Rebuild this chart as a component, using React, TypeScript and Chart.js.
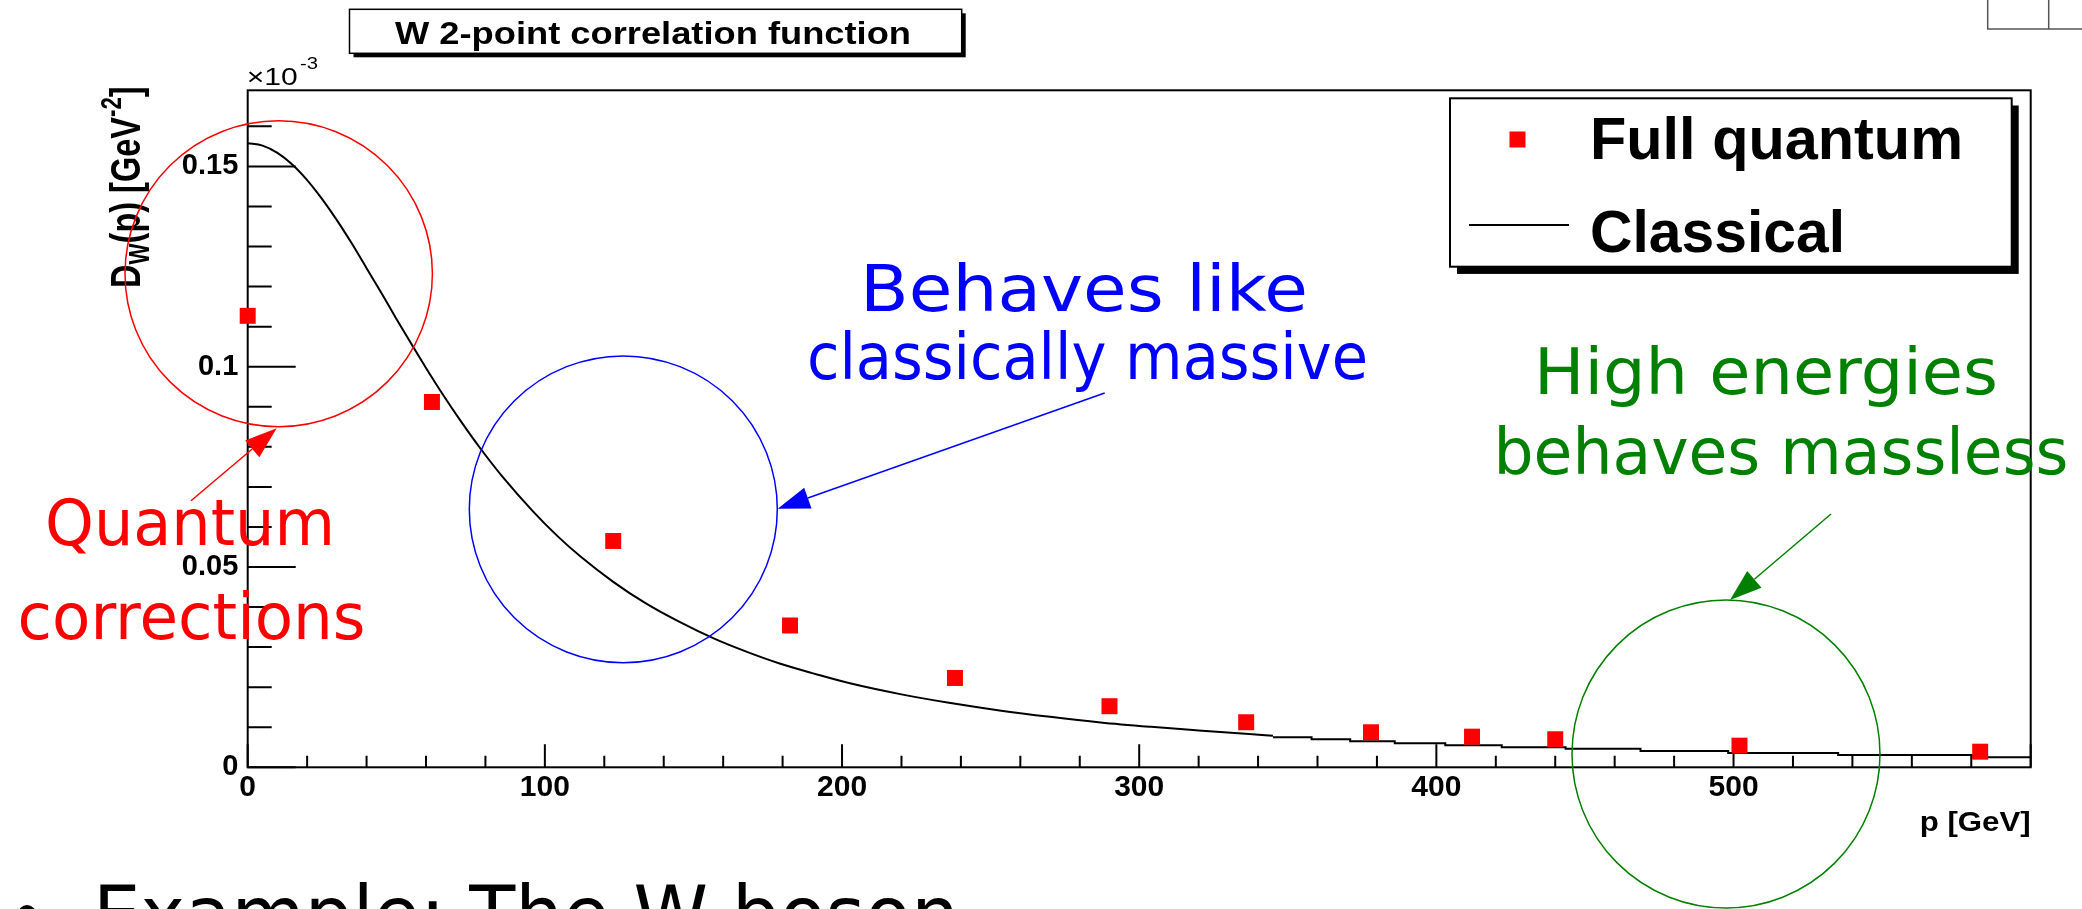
import React, { useEffect, useRef } from 'react';
import { Chart, registerables } from 'chart.js';

Chart.register(...registerables);

// ---------- data (values in units of 1e-3 GeV^-2) ----------
const quantumP = [0, 62, 123, 182.5, 238, 290, 336, 378, 412, 440, 502, 583];
const quantumD = [0.1127, 0.0912, 0.0565, 0.0354, 0.0223, 0.01525, 0.01125, 0.00875, 0.00765, 0.007, 0.0054, 0.0039];

const classicalP = [0, 5, 10, 15, 20, 25, 30, 35, 40, 45, 50, 55, 60, 66, 72, 78, 86, 96, 104, 112, 123, 134, 145, 157, 168, 179, 191, 203, 220, 236, 253, 270, 287, 304, 320, 337, 345];
const classicalD = [0.1558, 0.1552, 0.1534, 0.1505, 0.1466, 0.1419, 0.1366, 0.1308, 0.1246, 0.1184, 0.112, 0.1058, 0.0997, 0.0927, 0.0861, 0.0799, 0.0723, 0.0639, 0.0579, 0.0526, 0.0463, 0.0409, 0.0364, 0.0321, 0.0288, 0.0259, 0.0233, 0.0209, 0.0182, 0.0161, 0.0142, 0.0126, 0.0112, 0.0101, 0.0092, 0.0083, 0.0079];

// high-momentum part of the classical histogram (bin left edges and contents)
const classicalTailP = [345, 358, 371, 386, 403, 422, 443.5, 468.7, 498.2, 535.2, 580.4, 600];
const classicalTailD = [0.0075, 0.007, 0.0065, 0.006, 0.0055, 0.005, 0.0046, 0.0041, 0.0036, 0.0031, 0.0025, 0.0025];

const xTickValues = [0, 100, 200, 300, 400, 500];
const xTickLabels = ['0', '100', '200', '300', '400', '500'];
const yTickValues = [0, 0.05, 0.1, 0.15];
const yTickLabels = ['0', '0.05', '0.1', '0.15'];

const X_MIN = 0;
const X_MAX = 600;
const Y_MIN = 0;
const Y_MAX = 0.169;

const legendLabels = ['Full quantum', 'Classical'];
const titleText = 'W 2-point correlation function';

// ---------- layout constants ----------
const W = 2082;
const H = 909;
const AREA = { left: 247.7, right: 2030.7, top: 90.3, bottom: 767.3 };

const ROOT_FONT = "'Liberation Sans', Arial, Helvetica, sans-serif";
const SLIDE_FONT = "'DejaVu Sans', Verdana, sans-serif";

function fitText(
  ctx: CanvasRenderingContext2D,
  text: string,
  x: number,
  y: number,
  size: number,
  width: number | null,
  align: CanvasTextAlign,
  weight: string,
  family: string,
  color: string
) {
  ctx.save();
  ctx.font = `${weight} ${size}px ${family}`;
  const w = ctx.measureText(text).width;
  const sx = width ? width / w : 1;
  ctx.translate(x, y);
  ctx.scale(sx, 1);
  ctx.textAlign = align;
  ctx.textBaseline = 'alphabetic';
  ctx.fillStyle = color;
  ctx.fillText(text, 0, 0);
  ctx.restore();
}

function arrow(ctx: CanvasRenderingContext2D, x0: number, y0: number, x1: number, y1: number, color: string) {
  const dx = x1 - x0;
  const dy = y1 - y0;
  const len = Math.hypot(dx, dy);
  const ux = dx / len;
  const uy = dy / len;
  const hl = 32;
  const hw = 11;
  const bx = x1 - ux * hl;
  const by = y1 - uy * hl;
  ctx.save();
  ctx.strokeStyle = color;
  ctx.fillStyle = color;
  ctx.lineWidth = 1.5;
  ctx.beginPath();
  ctx.moveTo(x0, y0);
  ctx.lineTo(bx, by);
  ctx.stroke();
  ctx.beginPath();
  ctx.moveTo(x1, y1);
  ctx.lineTo(bx - uy * hw, by + ux * hw);
  ctx.lineTo(bx + uy * hw, by - ux * hw);
  ctx.closePath();
  ctx.fill();
  ctx.restore();
}

function ellipse(ctx: CanvasRenderingContext2D, cx: number, cy: number, rx: number, ry: number, color: string) {
  ctx.save();
  ctx.strokeStyle = color;
  ctx.lineWidth = 1.5;
  ctx.beginPath();
  ctx.ellipse(cx, cy, rx, ry, 0, 0, Math.PI * 2);
  ctx.stroke();
  ctx.restore();
}

const rootPlugin = {
  id: 'rootStyle',
  beforeDatasetsDraw(chart: any) {
    const ctx: CanvasRenderingContext2D = chart.ctx;
    const { left, right, top, bottom } = chart.chartArea;
    const xs = chart.scales.x;
    const ys = chart.scales.y;
    ctx.save();
    ctx.strokeStyle = '#000';
    ctx.lineWidth = 2;
    ctx.strokeRect(left, top, right - left, bottom - top);
    ctx.beginPath();
    for (let v = X_MIN; v <= X_MAX; v += 20) {
      const px = xs.getPixelForValue(v);
      const len = v % 100 === 0 ? 23 : 11.5;
      ctx.moveTo(px, bottom);
      ctx.lineTo(px, bottom - len);
    }
    for (let i = 0; i <= 16; i++) {
      const v = i * 0.01;
      const py = ys.getPixelForValue(v);
      const len = i % 5 === 0 ? 48 : 24;
      ctx.moveTo(left, py);
      ctx.lineTo(left + len, py);
    }
    ctx.stroke();
    ctx.restore();
  },
  afterDatasetsDraw(chart: any) {
    const ctx: CanvasRenderingContext2D = chart.ctx;
    const { right, top } = chart.chartArea;

    // ×10^-3
    fitText(ctx, '\u00d710', 246.7, 85, 23, 51, 'left', 'normal', ROOT_FONT, '#000');
    fitText(ctx, '-3', 300, 69, 16, 18, 'left', 'normal', ROOT_FONT, '#000');

    // y-axis title (rotated)
    ctx.save();
    const parts = [
      { t: 'D', s: 32, dy: 0 },
      { t: 'W', s: 22, dy: 7 },
      { t: '(p) [GeV', s: 32, dy: 0 },
      { t: '-2', s: 22, dy: -14 },
      { t: ']', s: 32, dy: 0 },
    ];
    let total = 0;
    const widths: number[] = [];
    for (const p of parts) {
      ctx.font = `bold ${p.s}px ${ROOT_FONT}`;
      const w = ctx.measureText(p.t).width;
      widths.push(w);
      total += w;
    }
    const yStart = 288;
    const yEnd = top - 4;
    ctx.translate(140, yStart);
    ctx.rotate(-Math.PI / 2);
    ctx.scale((yStart - yEnd) / total, 1.35);
    ctx.fillStyle = '#000';
    ctx.textBaseline = 'alphabetic';
    ctx.textAlign = 'left';
    let cx = 0;
    parts.forEach((p, i) => {
      ctx.font = `bold ${p.s}px ${ROOT_FONT}`;
      ctx.fillText(p.t, cx, p.dy);
      cx += widths[i];
    });
    ctx.restore();

    // x-axis title
    fitText(ctx, 'p [GeV]', right, 830.7, 28.5, 111, 'right', 'bold', ROOT_FONT, '#000');

    // title box
    ctx.save();
    ctx.fillStyle = '#000';
    ctx.fillRect(353.5, 13.3, 612.2, 44);
    ctx.fillStyle = '#fff';
    ctx.fillRect(349.5, 9.3, 612.2, 44);
    ctx.strokeStyle = '#000';
    ctx.lineWidth = 1.5;
    ctx.strokeRect(349.5, 9.3, 612.2, 44);
    ctx.restore();
    fitText(ctx, titleText, 653, 44, 31, 516, 'center', 'bold', ROOT_FONT, '#000');

    // legend box
    ctx.save();
    ctx.fillStyle = '#000';
    ctx.fillRect(1457, 105.5, 561.7, 168.4);
    ctx.fillStyle = '#fff';
    ctx.fillRect(1450, 98.3, 561.7, 168.4);
    ctx.strokeStyle = '#000';
    ctx.lineWidth = 2;
    ctx.strokeRect(1450, 98.3, 561.7, 168.4);
    ctx.fillStyle = '#ff0000';
    ctx.fillRect(1509.5, 131.5, 16, 16);
    ctx.strokeStyle = '#000';
    ctx.lineWidth = 2;
    ctx.beginPath();
    ctx.moveTo(1469, 225);
    ctx.lineTo(1569, 225);
    ctx.stroke();
    ctx.restore();
    fitText(ctx, legendLabels[0], 1590, 159.3, 59.5, 373, 'left', 'bold', ROOT_FONT, '#000');
    fitText(ctx, legendLabels[1], 1590, 251.7, 59.5, 255, 'left', 'bold', ROOT_FONT, '#000');

    // small box top right
    ctx.save();
    ctx.strokeStyle = '#555';
    ctx.lineWidth = 1.5;
    ctx.beginPath();
    ctx.moveTo(1987.7, 0);
    ctx.lineTo(1987.7, 29);
    ctx.lineTo(W, 29);
    ctx.moveTo(2048.7, 0);
    ctx.lineTo(2048.7, 29);
    ctx.stroke();
    ctx.restore();

    // slide annotations
    const red = '#ff0000';
    const blue = '#0000ff';
    const green = '#008000';
    ellipse(ctx, 278.7, 273.7, 153.7, 153, red);
    arrow(ctx, 191, 500.7, 276.7, 428.3, red);
    fitText(ctx, 'Quantum', 190, 545, 64, 290, 'center', 'normal', SLIDE_FONT, red);
    fitText(ctx, 'corrections', 191.5, 639, 64, 348, 'center', 'normal', SLIDE_FONT, red);

    ellipse(ctx, 623.3, 509.3, 154, 153.4, blue);
    arrow(ctx, 1104.7, 393, 777.7, 508.7, blue);
    fitText(ctx, 'Behaves like', 1084, 311, 64, 448, 'center', 'normal', SLIDE_FONT, blue);
    fitText(ctx, 'classically massive', 1087.5, 379, 64, 561, 'center', 'normal', SLIDE_FONT, blue);

    ellipse(ctx, 1726, 754, 154, 154, green);
    arrow(ctx, 1831, 514, 1730, 600, green);
    fitText(ctx, 'High energies', 1766, 394, 64, 464, 'center', 'normal', SLIDE_FONT, green);
    fitText(ctx, 'behaves massless', 1781, 474, 64, 575, 'center', 'normal', SLIDE_FONT, green);

    // bottom bullet line (cut by the page edge)
    ctx.save();
    ctx.fillStyle = '#000';
    ctx.beginPath();
    ctx.arc(27, 914, 9, 0, Math.PI * 2);
    ctx.fill();
    ctx.restore();
    fitText(ctx, 'Example: The W boson', 93, 942, 78, 866, 'left', 'normal', SLIDE_FONT, '#000');
  },
};

export default function App() {
  const ref = useRef<HTMLCanvasElement>(null);

  useEffect(() => {
    if (!ref.current) return;
    const chart = new Chart(ref.current, {
      type: 'scatter',
      data: {
        datasets: [
          {
            label: legendLabels[0],
            data: quantumP.map((p, i) => ({ x: p, y: quantumD[i] })),
            pointStyle: 'rect',
            pointRadius: 11.3,
            pointBackgroundColor: '#ff0000',
            backgroundColor: '#ff0000',
            pointBorderWidth: 0,
            borderWidth: 0,
            showLine: false,
            clip: false,
          } as any,
          {
            label: legendLabels[1],
            data: classicalP.map((p, i) => ({ x: p, y: classicalD[i] })),
            showLine: true,
            borderColor: '#000',
            borderWidth: 2,
            pointRadius: 0,
            cubicInterpolationMode: 'monotone',
          } as any,
          {
            label: legendLabels[1] + ' (tail)',
            data: classicalTailP.map((p, i) => ({ x: p, y: classicalTailD[i] })),
            showLine: true,
            stepped: true,
            borderColor: '#000',
            borderWidth: 2,
            pointRadius: 0,
          } as any,
        ],
      },
      options: {
        responsive: false,
        animation: false,
        devicePixelRatio: 1,
        layout: {
          padding: { left: 0, top: AREA.top, right: W - AREA.right, bottom: 0 },
        },
        plugins: {
          legend: { display: false },
          tooltip: { enabled: false },
          title: { display: false },
        },
        scales: {
          x: {
            type: 'linear',
            min: X_MIN,
            max: X_MAX,
            afterFit: (s: any) => {
              s.height = H - AREA.bottom;
            },
            afterBuildTicks: (s: any) => {
              s.ticks = xTickValues.map((v) => ({ value: v }));
            },
            grid: { display: false, drawTicks: false },
            border: { display: false },
            ticks: {
              autoSkip: false,
              maxRotation: 0,
              padding: 2.6,
              color: '#000',
              font: { family: ROOT_FONT, weight: 'bold', size: 30 },
              callback: (_v: any, i: number) => xTickLabels[i],
            },
          },
          y: {
            type: 'linear',
            min: Y_MIN,
            max: Y_MAX,
            afterFit: (s: any) => {
              s.width = AREA.left;
            },
            afterBuildTicks: (s: any) => {
              s.ticks = yTickValues.map((v) => ({ value: v }));
            },
            grid: { display: false, drawTicks: false },
            border: { display: false },
            ticks: {
              padding: 9.4,
              color: '#000',
              font: { family: ROOT_FONT, weight: 'bold', size: 29 },
              callback: (_v: any, i: number) => yTickLabels[i],
            },
          },
        },
      } as any,
      plugins: [rootPlugin],
    });
    return () => chart.destroy();
  }, []);

  return (
    <div style={{ position: 'absolute', left: 0, top: 0, width: W, height: H, overflow: 'hidden', background: '#fff' }}>
      <canvas ref={ref} width={W} height={H} style={{ display: 'block', width: W, height: H }} />
    </div>
  );
}
